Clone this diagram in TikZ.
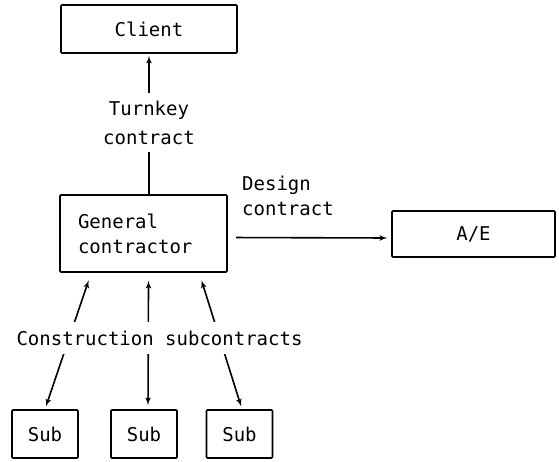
\documentclass[tikz,border=0pt]{standalone}
\usepackage{fontspec}
\setmonofont{DejaVu Sans Mono}
\usepackage{tikz}
\usetikzlibrary{positioning}
\usetikzlibrary{calc}
\usetikzlibrary{arrows}

\begin{document}
\begin{tikzpicture}[
    x=1pt, y=-1pt,                              % pixel-like units, y going down
    font=\ttfamily\fontsize{19}{25}\selectfont, % typewriter look of the scan
    ]
% -------------------------------------------------
\tikzset{
  base/.style={draw, line width=1.6pt, align=center, inner sep=0pt},
  proc/.style={base, rectangle, rounded corners=1pt, minimum height=48pt},
  sub/.style={proc, minimum width=66pt},
  lbl/.style={align=center, fill=white, inner xsep=2pt},
  line/.style={draw, line width=1.6pt, -latex'}
}
\useasboundingbox (0,0) rectangle (559,461);
\node [proc, minimum width=176pt] (client) at (149,29) {Client};
\node [proc, minimum width=167pt, minimum height=77pt, text width=131pt,
       inner xsep=18pt, align=left] (gc) at (143.5,233.5) {General\\contractor};
\node [proc, minimum width=163pt, minimum height=46pt] (ae) at (473.5,234) {A/E};
\node [sub] (sub1) at (45,434) {Sub};
\node [sub] (sub2) at (144,434) {Sub};
\node [sub] (sub3) at (239.5,434) {Sub};
% contracts
\path [line, shorten >=2pt] (gc.north -| client.south) -- (client.south);
\path [line, shorten <=8pt, shorten >=4pt] ([yshift=-4pt]gc.east) -- ([yshift=-4pt]ae.west);
\path [line, latex'-latex', shorten <=8pt, shorten >=3pt]
  ($(gc.south west)!0.19!(gc.south east)$) -- (sub1.north);
\path [line, latex'-latex', shorten <=8pt, shorten >=4pt]
  ($(gc.south west)!0.53!(gc.south east)$) -- (sub2.north -| 148,0);
\path [line, latex'-latex', shorten <=8pt, shorten >=3pt]
  ($(gc.south west)!0.83!(gc.south east)$) -- (sub3.north -| 242,0);
% labels
\node [lbl, inner ysep=8pt] (turnkey) at (149,122.5) {Turnkey\\[4pt]contract};
\node [align=left, anchor=north west, inner sep=0pt] (design) at (242,176) {Design\\contract};
\node [lbl, inner ysep=9pt] (constr) at (159.5,338) {Construction subcontracts};
\end{tikzpicture}
\end{document}
